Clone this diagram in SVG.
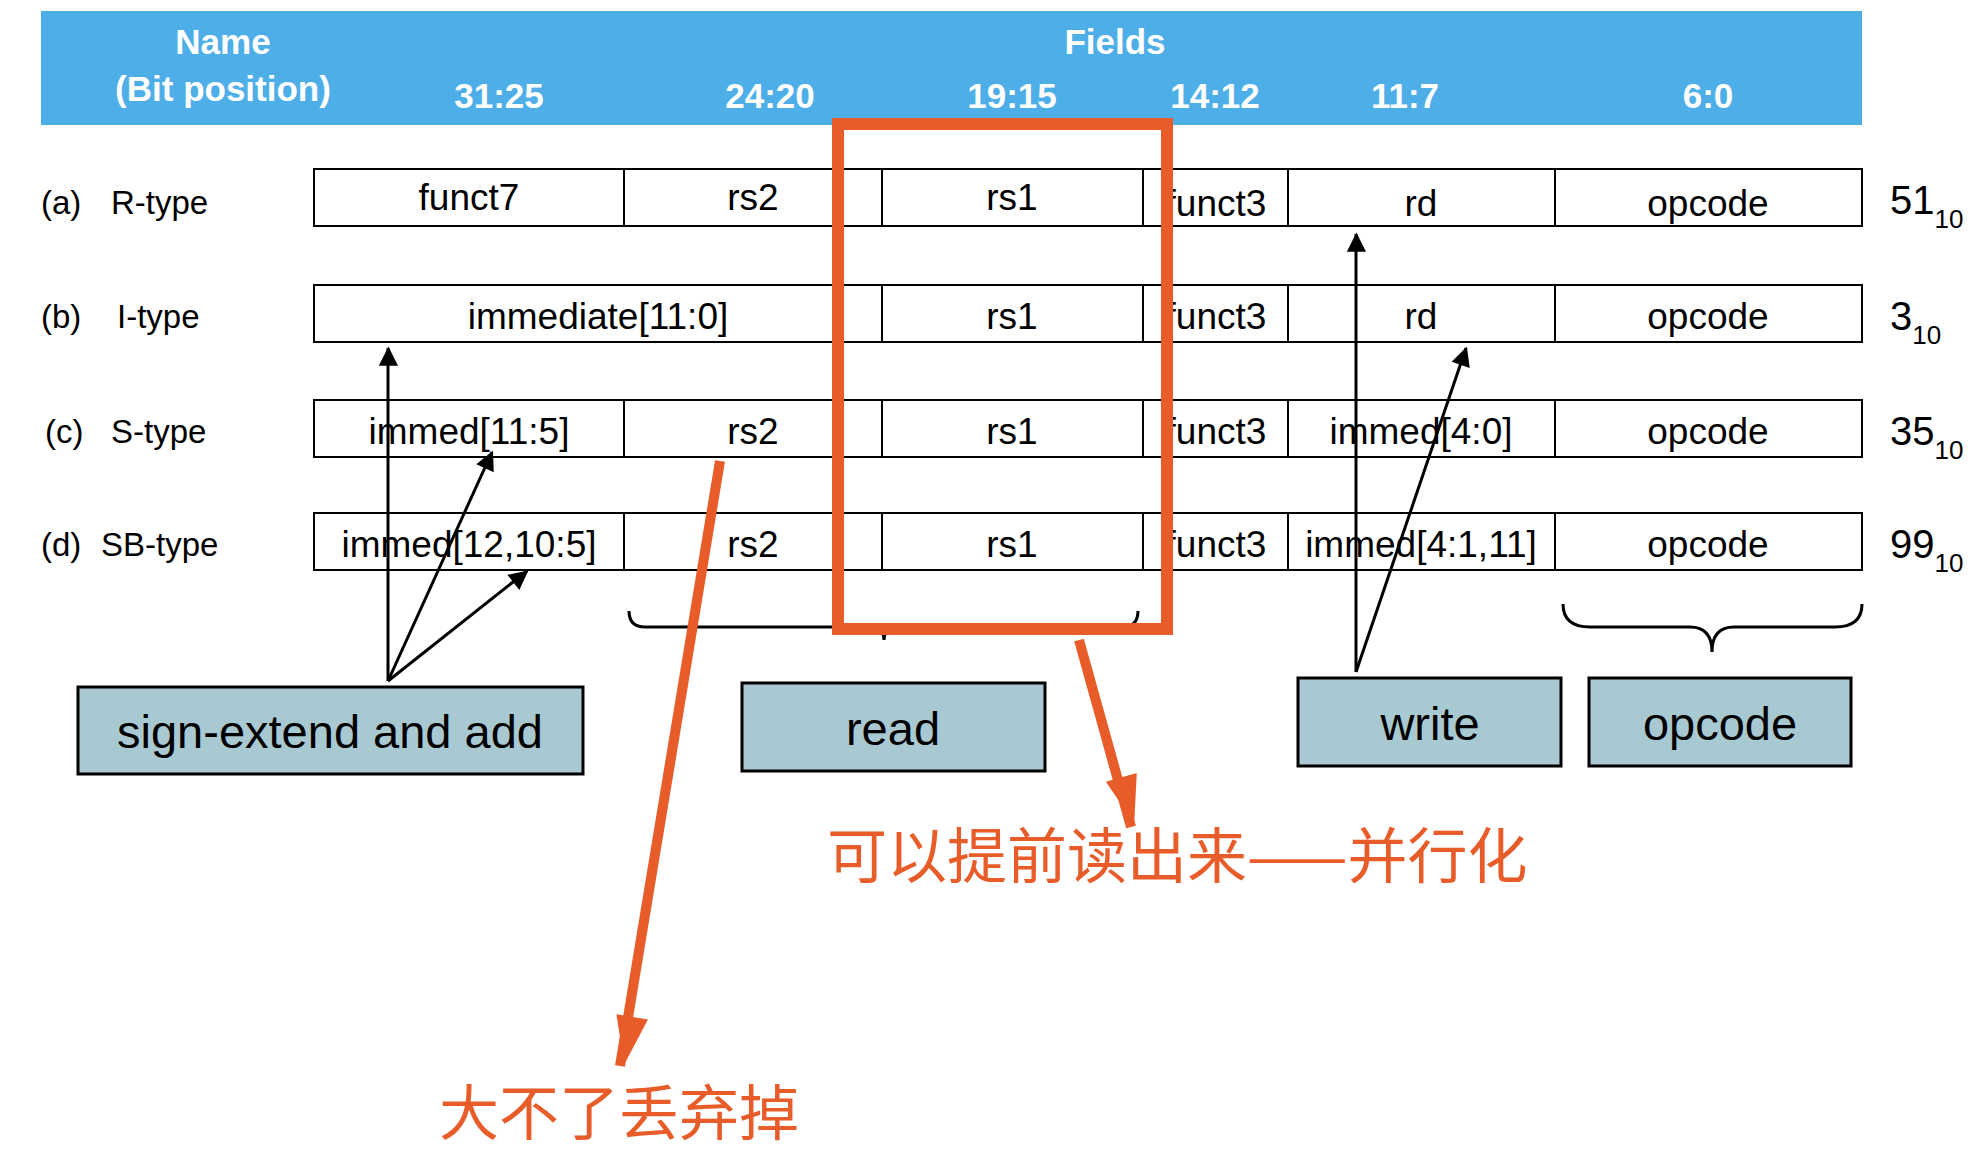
<svg xmlns="http://www.w3.org/2000/svg" width="1985" height="1176" viewBox="0 0 1985 1176">
<style>
.h{font-family:"Liberation Sans",Arial,sans-serif;font-weight:bold;fill:#fff;font-size:35px;text-anchor:middle}
.t{font-family:"Liberation Sans",Arial,sans-serif;font-size:37px;fill:#000;text-anchor:middle}
.l{font-family:"Liberation Sans",Arial,sans-serif;font-size:33px;fill:#000}
.v{font-family:"Liberation Sans",Arial,sans-serif;font-size:40px;fill:#000}
.cell{fill:#fff;stroke:#000;stroke-width:2}
.box{fill:#a9c9d2;stroke:#000;stroke-width:3}
.bt{font-family:"Liberation Sans",Arial,sans-serif;font-size:47px;fill:#000;text-anchor:middle}
.cn{font-family:"Noto Sans CJK SC",sans-serif;font-size:60px;fill:#e85c2a}
.ar{stroke:#000;stroke-width:3;fill:none}
.or{stroke:#e85c2a;stroke-width:10;fill:none}
</style>
<defs>
<marker id="a" viewBox="0 0 10 10" refX="9" refY="5" markerWidth="8" markerHeight="8" markerUnits="userSpaceOnUse" orient="auto" style="overflow:visible"><path d="M0,0 L10,5 L0,10 z" fill="#000" transform="scale(2.4) translate(-5.5,-2.7)"/></marker>
<marker id="o" viewBox="0 0 10 10" refX="9" refY="5" markerWidth="8" markerHeight="8" markerUnits="userSpaceOnUse" orient="auto" style="overflow:visible"><path d="M0,0 L10,5 L0,10 z" fill="#e85c2a" transform="scale(6,4) translate(-9,-5)"/></marker>
</defs>
<rect width="1985" height="1176" fill="#fff"/>
<g id="header">
<rect x="41" y="11" width="1821" height="114" fill="#4eaee8"/>
<text class="h" x="223" y="54">Name</text>
<text class="h" x="223" y="101">(Bit position)</text>
<text class="h" x="1115" y="54">Fields</text>
<text class="h" x="499" y="108">31:25</text>
<text class="h" x="770" y="108">24:20</text>
<text class="h" x="1012" y="108">19:15</text>
<text class="h" x="1215" y="108">14:12</text>
<text class="h" x="1405" y="108">11:7</text>
<text class="h" x="1708" y="108">6:0</text>
</g>
<g id="rowR">
<rect class="cell" x="314" y="169" width="1548" height="57"/>
<path d="M624 169v57M882 169v57M1143 169v57M1288 169v57M1555 169v57" stroke="#000" stroke-width="2"/>
<text class="l" x="41" y="214">(a)</text><text class="l" x="111" y="214">R-type</text>
<text class="t" x="469" y="210">funct7</text><text class="t" x="753" y="210">rs2</text><text class="t" x="1012" y="210">rs1</text><text class="t" x="1216" y="216">funct3</text><text class="t" x="1421" y="216">rd</text><text class="t" x="1708" y="216">opcode</text>
<text class="v" x="1890" y="214">51<tspan font-size="26" dy="14">10</tspan></text>
</g>
<g id="rowI">
<rect class="cell" x="314" y="285" width="1548" height="57"/>
<path d="M882 285v57M1143 285v57M1288 285v57M1555 285v57" stroke="#000" stroke-width="2"/>
<text class="l" x="41" y="328">(b)</text><text class="l" x="117" y="328">I-type</text>
<text class="t" x="598" y="329">immediate[11:0]</text><text class="t" x="1012" y="329">rs1</text><text class="t" x="1216" y="329">funct3</text><text class="t" x="1421" y="329">rd</text><text class="t" x="1708" y="329">opcode</text>
<text class="v" x="1890" y="330">3<tspan font-size="26" dy="14">10</tspan></text>
</g>
<g id="rowS">
<rect class="cell" x="314" y="400" width="1548" height="57"/>
<path d="M624 400v57M882 400v57M1143 400v57M1288 400v57M1555 400v57" stroke="#000" stroke-width="2"/>
<text class="l" x="45" y="443">(c)</text><text class="l" x="111" y="443">S-type</text>
<text class="t" x="469" y="444">immed[11:5]</text><text class="t" x="753" y="444">rs2</text><text class="t" x="1012" y="444">rs1</text><text class="t" x="1216" y="444">funct3</text><text class="t" x="1421" y="444">immed[4:0]</text><text class="t" x="1708" y="444">opcode</text>
<text class="v" x="1890" y="445">35<tspan font-size="26" dy="14">10</tspan></text>
</g>
<g id="rowSB">
<rect class="cell" x="314" y="513" width="1548" height="57"/>
<path d="M624 513v57M882 513v57M1143 513v57M1288 513v57M1555 513v57" stroke="#000" stroke-width="2"/>
<text class="l" x="41" y="556">(d)</text><text class="l" x="101" y="556">SB-type</text>
<text class="t" x="469" y="557">immed[12,10:5]</text><text class="t" x="753" y="557">rs2</text><text class="t" x="1012" y="557">rs1</text><text class="t" x="1216" y="557">funct3</text><text class="t" x="1421" y="557">immed[4:1,11]</text><text class="t" x="1708" y="557">opcode</text>
<text class="v" x="1890" y="558">99<tspan font-size="26" dy="14">10</tspan></text>
</g>
<g id="braces" fill="none" stroke="#000" stroke-width="3">
<path d="M629 611 Q629 627 645 627 L868 627 Q884 627 884 640 Q884 627 900 627 L1122 627 Q1138 627 1138 611"/>
<path d="M1563 604 Q1563 627 1590 627 L1690 627 Q1712 627 1712 652 Q1712 627 1734 627 L1835 627 Q1862 627 1862 604"/>
</g>
<g id="sign"><rect class="box" x="78" y="687" width="505" height="87"/><text class="bt" x="330" y="748">sign-extend and add</text></g>
<g id="read"><rect class="box" x="742" y="683" width="303" height="88"/><text class="bt" x="893" y="745">read</text></g>
<g id="write"><rect class="box" x="1298" y="678" width="263" height="88"/><text class="bt" x="1430" y="740">write</text></g>
<g id="opc"><rect class="box" x="1589" y="678" width="262" height="88"/><text class="bt" x="1720" y="740">opcode</text></g>
<g id="highlight"><rect x="838" y="124" width="329" height="505" fill="none" stroke="#e85c2a" stroke-width="12"/></g>
<g id="connectors">
<path class="ar" d="M388 681 L388 348" marker-end="url(#a)"/>
<path class="ar" d="M388 681 L492 452" marker-end="url(#a)"/>
<path class="ar" d="M388 681 L527 571" marker-end="url(#a)"/>
<path class="ar" d="M1356 672 L1356 234" marker-end="url(#a)"/>
<path class="ar" d="M1356 672 L1466 348" marker-end="url(#a)"/>
<path class="or" d="M720 461 L620 1066" marker-end="url(#o)"/>
<path class="or" d="M1079 640 L1131 827" marker-end="url(#o)"/>
</g>
<text class="cn" x="827" y="878">可以提前读出来——并行化</text>
<text class="cn" x="439" y="1135">大不了丢弃掉</text>
</svg>
